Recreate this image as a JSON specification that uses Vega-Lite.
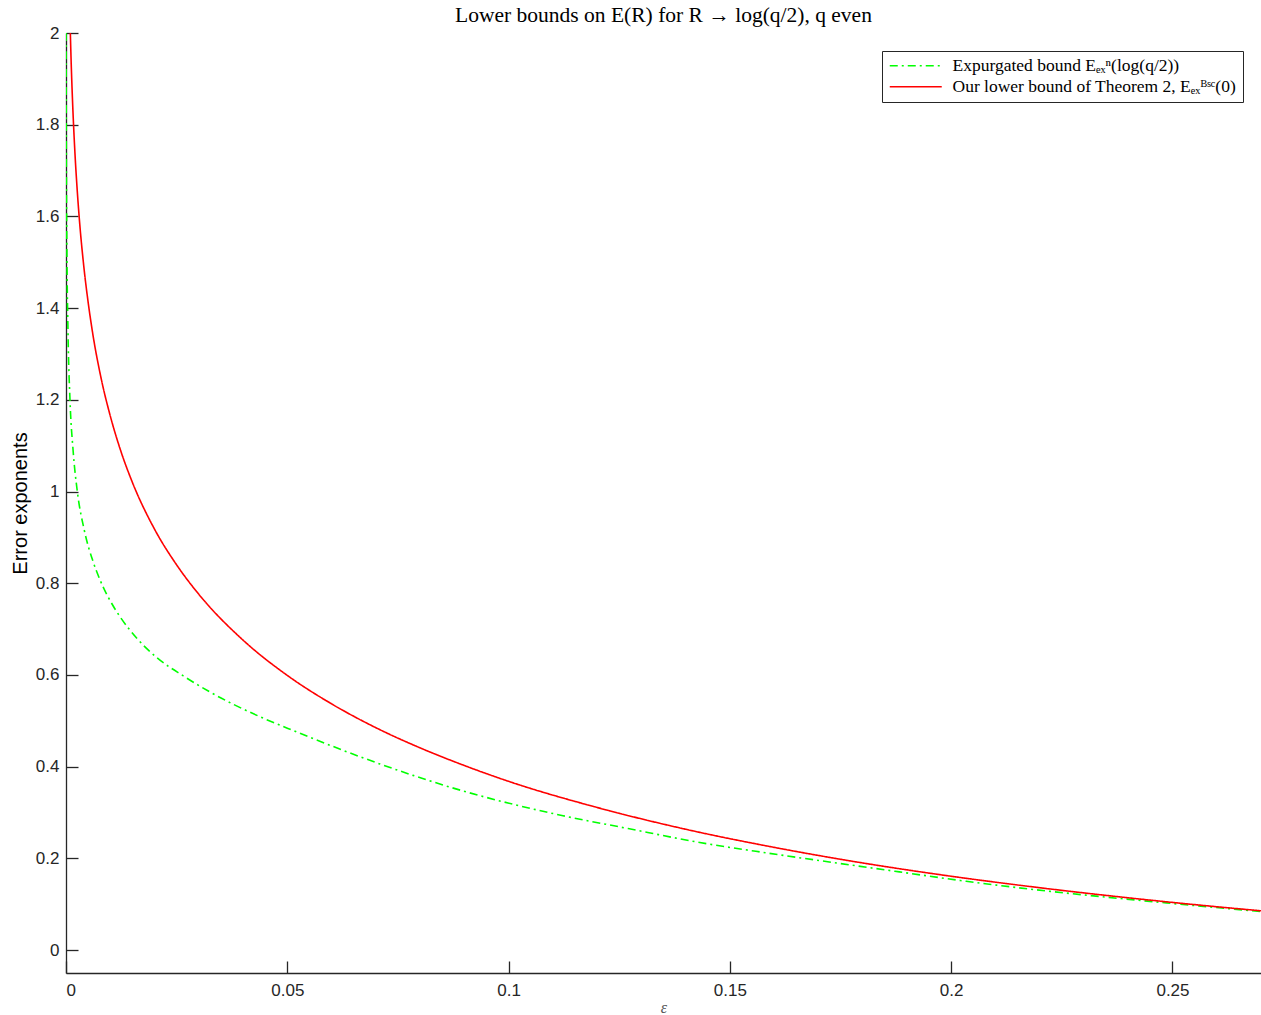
{
  "$schema": "https://vega.github.io/schema/vega-lite/v6.json",
  "width": 1195,
  "height": 940,
  "autosize": {"type": "none"},
  "padding": {"left": 66, "top": 33, "right": 0, "bottom": 42},
  "background": "white",
  "title": {"text": "Lower bounds on E(R) for R → log(q/2), q even", "font": "Liberation Serif", "fontSize": 21.5, "fontWeight": "normal", "color": "#000000", "anchor": "middle", "offset": -2},
  "config": {"view": {"stroke": null}},
  "data": {"values": [
    {"eps": 0.000025, "E": 2.0, "series": "Expurgated"},
    {"eps": 0.00003, "E": 1.95, "series": "Expurgated"},
    {"eps": 0.00008, "E": 1.73, "series": "Expurgated"},
    {"eps": 0.0002, "E": 1.53, "series": "Expurgated"},
    {"eps": 0.00045, "E": 1.35, "series": "Expurgated"},
    {"eps": 0.0009, "E": 1.2, "series": "Expurgated"},
    {"eps": 0.0016, "E": 1.09, "series": "Expurgated"},
    {"eps": 0.00256, "E": 1.0, "series": "Expurgated"},
    {"eps": 0.0041, "E": 0.917, "series": "Expurgated"},
    {"eps": 0.0062, "E": 0.845, "series": "Expurgated"},
    {"eps": 0.0077, "E": 0.807, "series": "Expurgated"},
    {"eps": 0.011, "E": 0.745, "series": "Expurgated"},
    {"eps": 0.0122, "E": 0.727, "series": "Expurgated"},
    {"eps": 0.016, "E": 0.68, "series": "Expurgated"},
    {"eps": 0.0205, "E": 0.638, "series": "Expurgated"},
    {"eps": 0.0265, "E": 0.598, "series": "Expurgated"},
    {"eps": 0.0325, "E": 0.563, "series": "Expurgated"},
    {"eps": 0.0438, "E": 0.509, "series": "Expurgated"},
    {"eps": 0.05, "E": 0.484, "series": "Expurgated"},
    {"eps": 0.0709, "E": 0.406, "series": "Expurgated"},
    {"eps": 0.0784, "E": 0.381, "series": "Expurgated"},
    {"eps": 0.0897, "E": 0.347, "series": "Expurgated"},
    {"eps": 0.101, "E": 0.318, "series": "Expurgated"},
    {"eps": 0.1123, "E": 0.293, "series": "Expurgated"},
    {"eps": 0.127, "E": 0.265, "series": "Expurgated"},
    {"eps": 0.1432, "E": 0.2346, "series": "Expurgated"},
    {"eps": 0.1582, "E": 0.212, "series": "Expurgated"},
    {"eps": 0.1733, "E": 0.191, "series": "Expurgated"},
    {"eps": 0.1883, "E": 0.1705, "series": "Expurgated"},
    {"eps": 0.2034, "E": 0.15, "series": "Expurgated"},
    {"eps": 0.2215, "E": 0.129, "series": "Expurgated"},
    {"eps": 0.2305, "E": 0.1198, "series": "Expurgated"},
    {"eps": 0.2501, "E": 0.1015, "series": "Expurgated"},
    {"eps": 0.27, "E": 0.084, "series": "Expurgated"},
    {"eps": 0.00098, "E": 2.0, "series": "Theorem2"},
    {"eps": 0.0012, "E": 1.926, "series": "Theorem2"},
    {"eps": 0.0015, "E": 1.846, "series": "Theorem2"},
    {"eps": 0.002, "E": 1.742, "series": "Theorem2"},
    {"eps": 0.0025, "E": 1.662, "series": "Theorem2"},
    {"eps": 0.003, "E": 1.596, "series": "Theorem2"},
    {"eps": 0.004, "E": 1.493, "series": "Theorem2"},
    {"eps": 0.005, "E": 1.413, "series": "Theorem2"},
    {"eps": 0.006, "E": 1.347, "series": "Theorem2"},
    {"eps": 0.008, "E": 1.244, "series": "Theorem2"},
    {"eps": 0.01, "E": 1.165, "series": "Theorem2"},
    {"eps": 0.0125, "E": 1.085, "series": "Theorem2"},
    {"eps": 0.015, "E": 1.02, "series": "Theorem2"},
    {"eps": 0.02, "E": 0.918, "series": "Theorem2"},
    {"eps": 0.025, "E": 0.84, "series": "Theorem2"},
    {"eps": 0.03, "E": 0.776, "series": "Theorem2"},
    {"eps": 0.04, "E": 0.676, "series": "Theorem2"},
    {"eps": 0.05, "E": 0.599, "series": "Theorem2"},
    {"eps": 0.06, "E": 0.537, "series": "Theorem2"},
    {"eps": 0.07, "E": 0.485, "series": "Theorem2"},
    {"eps": 0.08, "E": 0.441, "series": "Theorem2"},
    {"eps": 0.09, "E": 0.4025, "series": "Theorem2"},
    {"eps": 0.1, "E": 0.368, "series": "Theorem2"},
    {"eps": 0.12, "E": 0.311, "series": "Theorem2"},
    {"eps": 0.14, "E": 0.2635, "series": "Theorem2"},
    {"eps": 0.16, "E": 0.224, "series": "Theorem2"},
    {"eps": 0.18, "E": 0.19, "series": "Theorem2"},
    {"eps": 0.2, "E": 0.161, "series": "Theorem2"},
    {"eps": 0.22, "E": 0.136, "series": "Theorem2"},
    {"eps": 0.24, "E": 0.114, "series": "Theorem2"},
    {"eps": 0.26, "E": 0.0945, "series": "Theorem2"},
    {"eps": 0.27, "E": 0.0857, "series": "Theorem2"}
  ]},
  "mark": {"type": "line", "strokeWidth": 1.6, "clip": true, "interpolate": "monotone"},
  "encoding": {
    "x": {
      "field": "eps", "type": "quantitative",
      "scale": {"domain": [0, 0.27], "nice": false, "zero": false},
      "axis": {
        "title": "ε", "titleFont": "Liberation Serif", "titleFontStyle": "italic", "titleFontWeight": "normal", "titleFontSize": 16, "titleColor": "#555555", "titlePadding": 1,
        "values": [0, 0.05, 0.1, 0.15, 0.2, 0.25], "format": ".2~f",
        "labelFont": "Liberation Sans", "labelFontSize": 17, "labelColor": "#262626", "labelPadding": 21,
        "grid": false, "domainColor": "#262626", "domainWidth": 1.3, "tickColor": "#262626", "tickWidth": 1.3, "tickSize": -12
      }
    },
    "y": {
      "field": "E", "type": "quantitative",
      "scale": {"domain": [-0.05, 2], "nice": false, "zero": false},
      "axis": {
        "title": "Error exponents", "titleFont": "Liberation Sans", "titleFontWeight": "normal", "titleFontSize": 20, "titleColor": "#000000", "titlePadding": 5,
        "values": [0, 0.2, 0.4, 0.6, 0.8, 1, 1.2, 1.4, 1.6, 1.8, 2], "format": ".2~f",
        "labelFont": "Liberation Sans", "labelFontSize": 17, "labelColor": "#262626", "labelPadding": 19,
        "grid": false, "domainColor": "#262626", "domainWidth": 1.3, "tickColor": "#262626", "tickWidth": 1.3, "tickSize": -12
      }
    },
    "color": {
      "field": "series", "type": "nominal",
      "scale": {"domain": ["Expurgated", "Theorem2"], "range": ["#00ff00", "#ff0000"]},
      "legend": {
        "title": null, "orient": "top-right", "offset": 18,
        "fillColor": "white", "strokeColor": "#262626", "padding": 6,
        "labelFont": "Liberation Serif", "labelFontSize": 17.5, "labelColor": "#000000", "labelLimit": 500, "labelOffset": 47,
        "symbolType": "M-1.4,0H9", "symbolSize": 100, "symbolStrokeWidth": 1.6, "rowPadding": 2,
        "labelExpr": "datum.value == 'Expurgated' ? 'Expurgated bound Eₑₓⁿ(log(q/2))' : 'Our lower bound of Theorem 2, Eₑₓᴮˢᶜ(0)'"
      }
    },
    "strokeDash": {
      "field": "series", "type": "nominal",
      "scale": {"domain": ["Expurgated", "Theorem2"], "range": [[8, 4, 2, 4], [1, 0]]},
      "legend": {
        "title": null, "orient": "top-right", "offset": 18,
        "fillColor": "white", "strokeColor": "#262626", "padding": 6,
        "labelFont": "Liberation Serif", "labelFontSize": 17.5, "labelColor": "#000000", "labelLimit": 500, "labelOffset": 47,
        "symbolType": "M-1.4,0H9", "symbolSize": 100, "symbolStrokeWidth": 1.6, "rowPadding": 2,
        "labelExpr": "datum.value == 'Expurgated' ? 'Expurgated bound Eₑₓⁿ(log(q/2))' : 'Our lower bound of Theorem 2, Eₑₓᴮˢᶜ(0)'"
      }
    }
  }
}
